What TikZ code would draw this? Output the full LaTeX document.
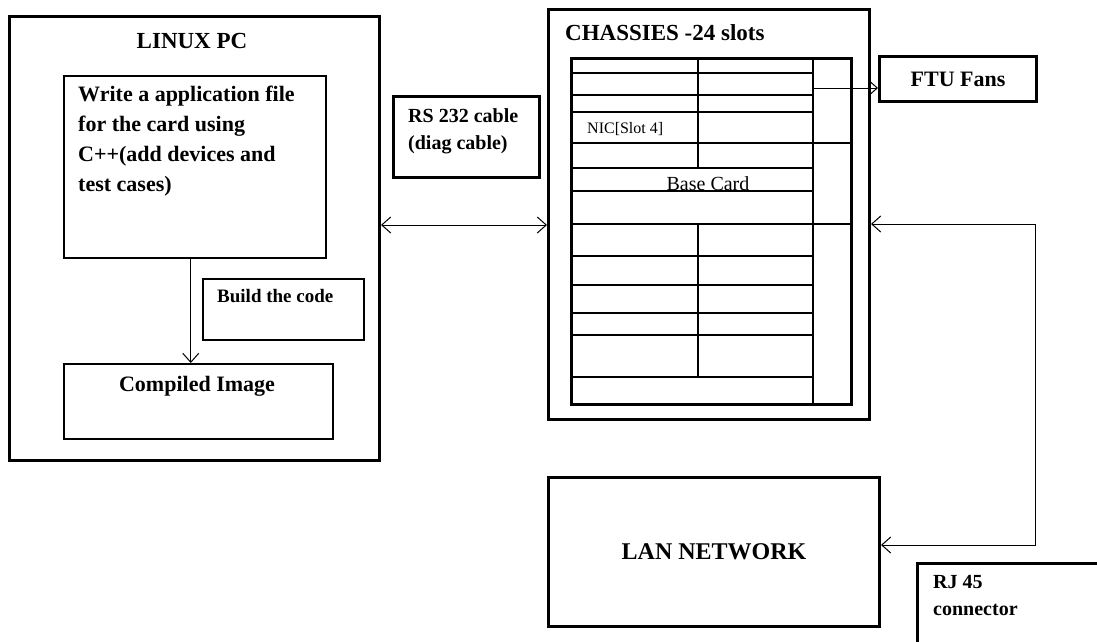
\documentclass[tikz,border=0pt]{standalone}
\usepackage{fontspec}
\setmainfont{Liberation Serif}
\usepackage{tikz}
\usetikzlibrary{arrows.meta}
\tikzstyle{box} = [rectangle, draw, line width=3pt, anchor=north west, inner sep=0pt]
\tikzstyle{thinbox} = [box, line width=1.5pt]
\tikzstyle{txt} = [inner sep=0pt, align=left]
\tikzstyle{slot} = [draw, line width=1.3pt]
\tikzstyle{line} = [draw, line width=1pt, -{Straight Barb[length=9pt,width=16pt]}]
\tikzstyle{dline} = [draw, line width=1pt,
    {Straight Barb[length=9pt,width=16pt]}-{Straight Barb[length=9pt,width=16pt]}]

\begin{document}
\begin{tikzpicture}[x=1pt, y=-1pt]
  \useasboundingbox (0,0) rectangle (1097,641);
  % Place nodes
  \node [box, minimum width=370pt, minimum height=444pt] (linux) at (8,15) {};
  \node [thinbox, minimum width=262pt, minimum height=182pt] (write) at (63,75) {};
  \node [thinbox, minimum width=161pt, minimum height=61pt] (build) at (202,278) {};
  \node [thinbox, minimum width=269pt, minimum height=75pt] (compiled) at (63,363) {};
  \node [box, minimum width=146pt, minimum height=81pt] (cable) at (392,95) {};
  \node [box, minimum width=321pt, minimum height=410pt] (chassis) at (547,8) {};
  \node [box, minimum width=280pt, minimum height=346pt] (rack) at (570,57) {};
  \node [box, minimum width=157pt, minimum height=45pt,
         font=\fontsize{22}{26}\selectfont\bfseries] (fans) at (878,55) {FTU Fans};
  \node [box, minimum width=331pt, minimum height=149pt,
         font=\fontsize{24}{28}\selectfont\bfseries] (lan) at (547,476) {LAN NETWORK};
  \node [box, minimum width=200pt, minimum height=100pt] (rj) at (916,562) {};

  % Texts
  \node [txt, font=\fontsize{23}{28}\selectfont\bfseries] (linuxtitle) at (192,41) {LINUX PC};
  \node [txt, anchor=north west, font=\fontsize{22}{30}\selectfont\bfseries] (writetext) at (78,86)
    {Write a application file\\for the card using\\C++(add devices and\\test cases)};
  \node [txt, anchor=base west, font=\fontsize{19}{24}\selectfont\bfseries] (buildtext) at (217,302) {Build the code};
  \node [txt, anchor=base, font=\fontsize{22}{26}\selectfont\bfseries] (compiledtext) at (197,391) {Compiled Image};
  \node [txt, anchor=north west, font=\fontsize{20}{27}\selectfont\bfseries] (cabletext) at (408,108)
    {RS 232 cable\\(diag cable)};
  \node [txt, anchor=base west, font=\fontsize{23}{28}\selectfont\bfseries] (chassistitle) at (565,40) {CHASSIES -24 slots};
  \node [txt, anchor=base west, font=\fontsize{16}{20}\selectfont] (nic) at (587,133) {NIC[Slot 4]};
  \node [txt, anchor=base, font=\fontsize{20}{24}\selectfont] (base) at (708,190) {Base Card};
  \node [txt, anchor=north west, font=\fontsize{20}{27}\selectfont\bfseries] (rjtext) at (933,575)
    {RJ 45\\connector};

  % Slots of the chassis
  \foreach \y in {73,95,112,168,191,256,285,313,335,377}
    \path [slot] (570,\y) -- (813,\y);
  \foreach \y in {143,224}
    \path [slot] (570,\y) -- (850,\y);
  \path [slot] (813,57) -- (813,403);
  \path [slot] (698,57) -- (698,168);
  \path [slot] (698,224) -- (698,377);

  % Connectors
  \coordinate (serial) at (0,225);
  \coordinate (fanrow) at (813,88);
  \coordinate (rjtop) at (1035,224);
  \coordinate (rjbot) at (1035,545);

  \path [line] ([xshift=-4pt]write.south) -- ([xshift=-4pt]write.south |- compiled.north);
  \path [dline] (linux.east |- serial) -- (chassis.west |- serial);
  \path [line] (fanrow) -- (fans.west |- fanrow);
  \path [dline] (chassis.east |- rjtop) -- (rjtop) -- (rjbot) -- (lan.east |- rjbot);

\end{tikzpicture}
\end{document}
